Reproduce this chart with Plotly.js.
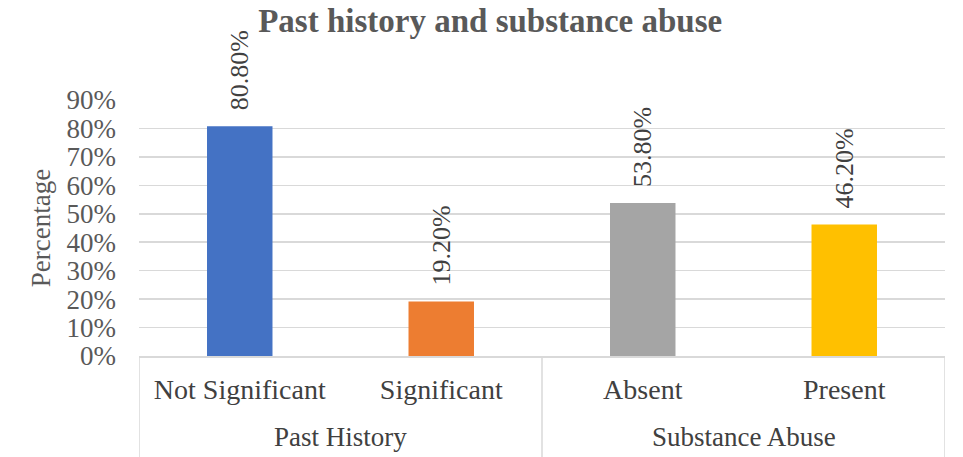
<!DOCTYPE html>
<html>
<head>
<meta charset="utf-8">
<script src="https://cdn.plot.ly/plotly-3.0.1.min.js"></script>
<style>
  html, body { margin: 0; padding: 0; background: #fff; }
  #chart { width: 963px; height: 457px; }
</style>
</head>
<body>
<div id="chart"></div>
<script>
// Group (outer) and category (inner) labels for the two-level x axis
const groups = ["Past History", "Past History", "Substance Abuse", "Substance Abuse"];
const categories = ["Not Significant", "Significant", "Absent", "Present"];
// Percentages per category
const values = [80.8, 19.2, 53.8, 46.2];
const barColors = ["#4472C4", "#ED7D31", "#A5A5A5", "#FFC000"];

const serif = "Liberation Serif, Times New Roman, serif";
const lineGrey = "#d9d9d9";

// Index spans of each group along the category axis
const spans = [];
groups.forEach((g, i) => {
  const last = spans[spans.length - 1];
  if (last && last.name === g) last.end = i;
  else spans.push({ name: g, start: i, end: i });
});

// Group labels centred under their categories
const groupLabels = spans.map(s => ({
  xref: "x", yref: "paper",
  x: (s.start + s.end) / 2, y: -0.316,
  xanchor: "center", yanchor: "middle",
  text: s.name, showarrow: false,
  font: { family: serif, size: 27, color: "#404040" }
}));

// Vertical dividers at the group boundaries, down to the bottom edge
const edges = [spans[0].start - 0.5].concat(spans.map(s => s.end + 0.5));
const dividers = edges.map(e => ({
  type: "line", xref: "x", yref: "paper",
  x0: e, x1: e, y0: 0, y1: -0.395,
  line: { color: lineGrey, width: 1.5 }
}));

const trace = {
  type: "bar",
  x: categories,
  y: values,
  marker: { color: barColors },
  // leading non-breaking spaces keep the rotated label clear of the bar top
  text: values.map(v => "\u00a0\u00a0" + v.toFixed(2) + "%"),
  textposition: "outside",
  textangle: -90,
  constraintext: "none",
  cliponaxis: false,
  textfont: { family: serif, size: 26, color: "#404040" },
  hoverinfo: "none"
};

const layout = {
  width: 963,
  height: 457,
  margin: { l: 139, r: 18, t: 100, b: 101 },
  paper_bgcolor: "#ffffff",
  plot_bgcolor: "#ffffff",
  showlegend: false,
  bargap: 0.675,
  title: {
    text: "<b>Past history and substance abuse</b>",
    font: { family: serif, size: 33, color: "#595959" },
    x: 0.509, xanchor: "center",
    y: 0.955, yanchor: "middle"
  },
  xaxis: {
    type: "category",
    range: [-0.5, categories.length - 0.5],
    showline: true,
    linecolor: lineGrey,
    linewidth: 1.5,
    ticks: "",
    ticklabelstandoff: 8,
    tickfont: { family: serif, size: 28, color: "#404040" },
    showgrid: false
  },
  yaxis: {
    range: [0, 90],
    dtick: 10,
    ticksuffix: "%",
    showgrid: true,
    gridcolor: lineGrey,
    gridwidth: 1.5,
    zeroline: false,
    showline: false,
    ticks: "",
    ticklabelstandoff: 22,
    tickfont: { family: serif, size: 27, color: "#595959" },
    title: {
      text: "Percentage",
      font: { family: serif, size: 27, color: "#595959" },
      standoff: 8
    }
  },
  annotations: groupLabels,
  shapes: dividers
};

Plotly.newPlot("chart", [trace], layout, { displayModeBar: false, staticPlot: true });
</script>
</body>
</html>
